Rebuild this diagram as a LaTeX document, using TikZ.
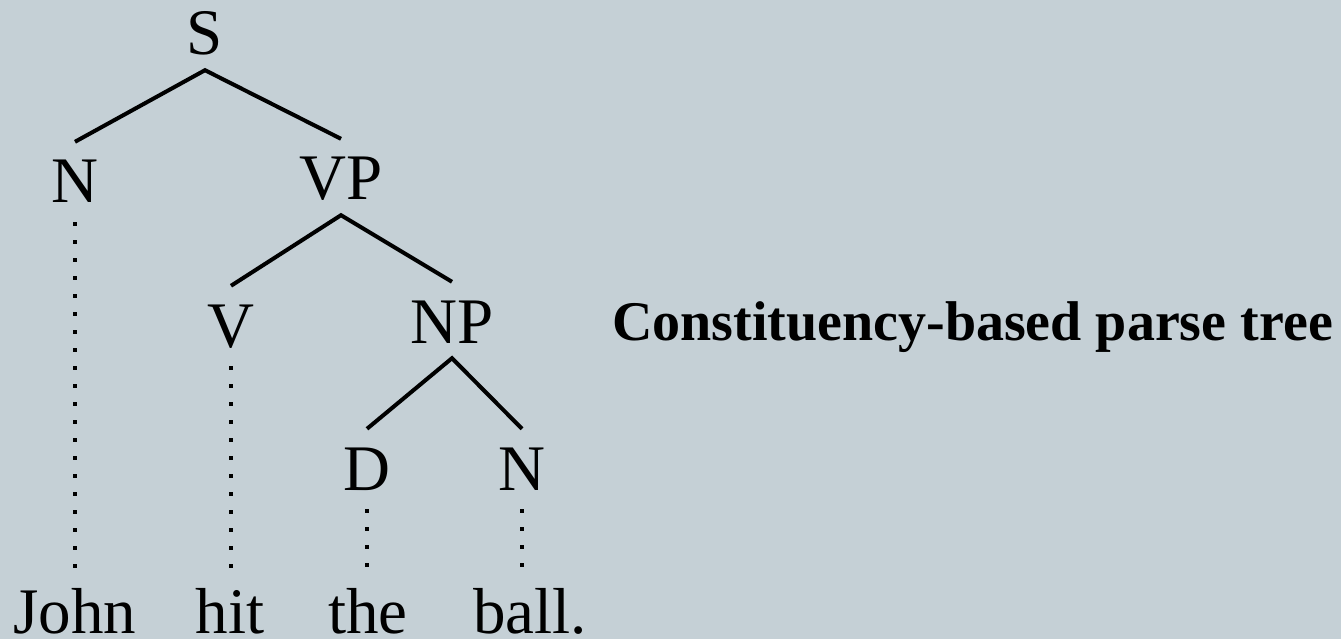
\documentclass[tikz,border=0pt]{standalone}
\usepackage{fontspec}
\setmainfont{Liberation Serif}
\definecolor{bgblue}{RGB}{197,208,214}
\begin{document}
\begin{tikzpicture}[x=1pt,y=-1pt,
    cat/.style={font=\fontsize{65}{78}\selectfont, text height=61pt, text depth=15pt, inner sep=0pt, anchor=base},
    word/.style={cat, text depth=2pt},
    branch/.style={line width=4pt},
    leaf/.style={line width=3.5pt, dash pattern=on 4pt off 14pt, shorten <=4pt}]
    % Background
    \useasboundingbox (0,0) rectangle (1341,639);
    \fill[bgblue] (0,0) rectangle (1341,639);

    % Categories
    \node[cat] (s) at (205,55) {S};
    \node[cat] (n1) at (75,203) {N};
    \node[cat] (vp) at (341,200) {VP};
    \node[cat] (v) at (231,347) {V};
    \node[cat] (np) at (452,343) {NP};
    \node[cat] (d) at (367,490) {D};
    \node[cat] (n2) at (522,490) {N};

    % Words
    \node[word] (john) at (75,633) {John};
    \node[word] (hit) at (230,633) {hit};
    \node[word] (the) at (368,633) {the};
    \node[word] (ball) at (530,633) {ball.};

    % Branches
    \draw[branch] (n1.north) -- (s.south) -- (vp.north);
    \draw[branch] (v.north) -- (vp.south) -- (np.north);
    \draw[branch] (d.north) -- (np.south) -- (n2.north);

    % Dotted lines down to the words
    \draw[leaf] (n1.south) -- (n1.south |- john.north);
    \draw[leaf] (v.south) -- (v.south |- hit.north);
    \draw[leaf] (d.south) -- (d.south |- the.north);
    \draw[leaf] (n2.south) -- (n2.south |- ball.north);

    % Caption
    \node[font=\bfseries\fontsize{56}{67}\selectfont, inner sep=0pt, anchor=base west] (title) at (612,340) {Constituency-based parse tree};
\end{tikzpicture}
\end{document}
